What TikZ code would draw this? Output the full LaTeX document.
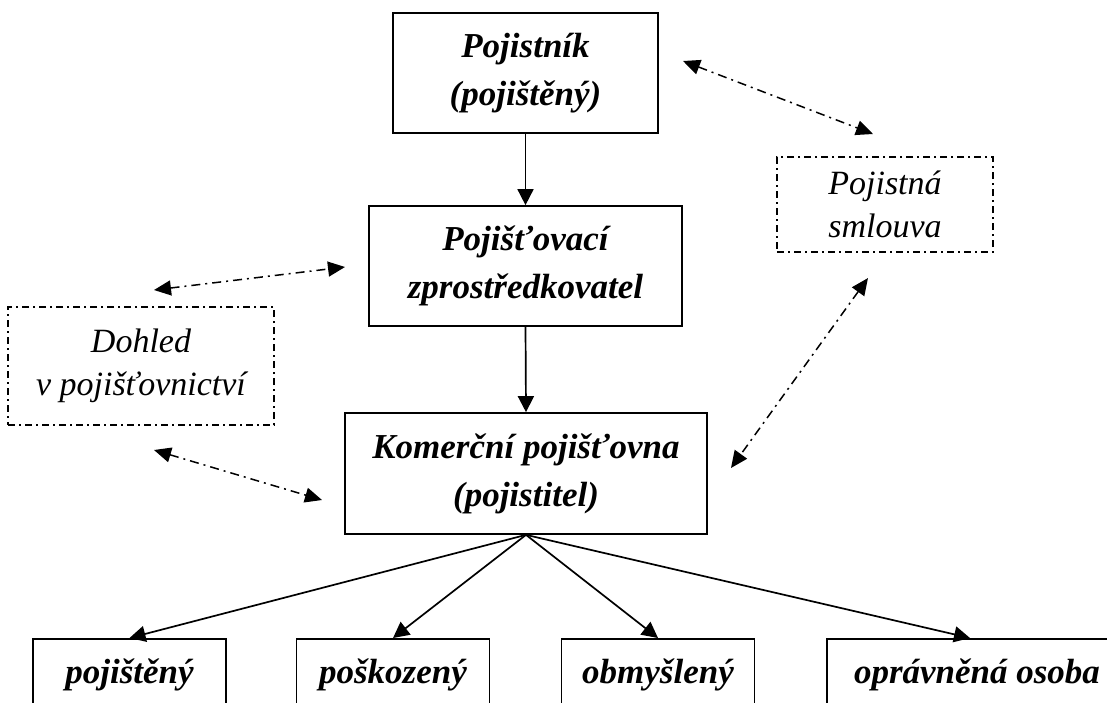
\documentclass[tikz,border=0pt]{standalone}
\usepackage{fontspec}
\setmainfont{Liberation Serif}
\usetikzlibrary{arrows.meta}
\begin{document}
\begin{tikzpicture}[x=1pt,y=-1pt,
  solidbox/.style={draw, line width=1.7pt, align=center, inner sep=0pt,
    font=\fontsize{35}{48}\selectfont\bfseries\itshape},
  leafbox/.style={solidbox, anchor=north, minimum width=193, minimum height=73,
    text height=26pt, text depth=9pt},
  dotbox/.style={draw, line width=1.4pt, dash pattern=on 7pt off 4pt on 2pt off 4pt,
    align=center, inner sep=0pt, font=\fontsize{34}{43}\selectfont\itshape},
  flow/.style={line width=1.7pt, -{Triangle[length=16pt,width=16pt]}},
  link/.style={line width=1.5pt, dash pattern=on 9pt off 5pt on 2pt off 5pt,
    {Triangle[length=17pt,width=15pt]}-{Triangle[length=17pt,width=15pt]}},
]
\clip (0,0) rectangle (1107,702);

% main chain
\node[solidbox, minimum width=265, minimum height=120] (top) at (525.5,73) {Pojistník\\(pojištěný)};
\node[solidbox, minimum width=313, minimum height=120] (mid) at (525.5,266) {Pojišťovací\\zprostředkovatel};
\node[solidbox, minimum width=362, minimum height=121] (kom) at (526,473.5) {Komerční pojišťovna\\(pojistitel)};

% side boxes
\node[dotbox, minimum width=216, minimum height=95] (sml) at (885,204.5) {Pojistná\\smlouva};
\node[dotbox, minimum width=266, minimum height=118] (doh) at (141,366) {Dohled\\v pojišťovnictví};

% bottom row
\node[leafbox] (b1) at (129.5,638) {pojištěný};
\node[leafbox] (b2) at (393,638) {poškozený};
\node[leafbox] (b3) at (658,638) {obmyšlený};
\node[leafbox, minimum width=300] (b4) at (977,638) {oprávněná osoba};
\coordinate (t4) at (970,638);

% solid arrows
\draw[flow] (top.south) -- (mid.north);
\draw[flow] (mid.south) -- (kom.north);
\draw[flow] (kom.south) -- (b1.north);
\draw[flow] (kom.south) -- (b2.north);
\draw[flow] (kom.south) -- (b3.north);
\draw[flow] (kom.south) -- (t4);

% dash-dot relations
\coordinate (a1) at (683,61);   \coordinate (a2) at (873,134);
\coordinate (c1) at (154,290);  \coordinate (c2) at (345,267);
\coordinate (d1) at (154,450);  \coordinate (d2) at (322,500);
\coordinate (e1) at (868,278);  \coordinate (e2) at (731,468);
\draw[link] (a1) -- (a2);
\draw[link] (c1) -- (c2);
\draw[link] (d1) -- (d2);
\draw[link] (e1) -- (e2);
\end{tikzpicture}
\end{document}
